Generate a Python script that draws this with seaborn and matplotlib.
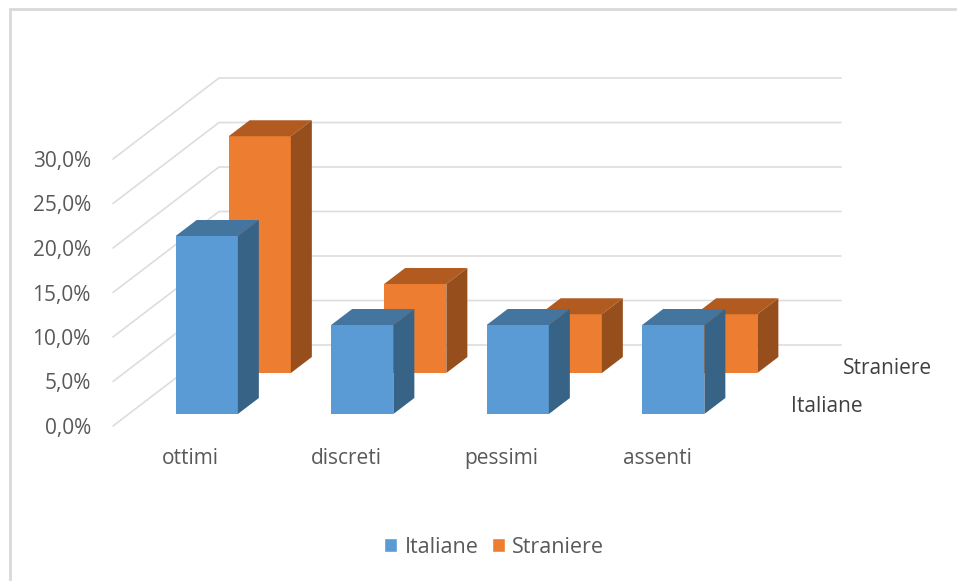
import pandas as pd
import matplotlib
matplotlib.use("Agg")
import matplotlib.pyplot as plt
from matplotlib.patches import Patch, Polygon, Rectangle
import seaborn as sns

categories = ["ottimi", "discreti", "pessimi", "assenti"]
italiane = [20.0, 10.0, 10.0, 10.0]
straniere = [26.6, 10.0, 6.6, 6.6]
yticks = [0, 5, 10, 15, 20, 25, 30]
ytick_labels = ["0,0%", "5,0%", "10,0%", "15,0%", "20,0%", "25,0%", "30,0%"]

W, H = 957, 581
PX_X = 622 / 4      # px per category
PX_Y = 8.9          # px per percent
BLUE, ORANGE = "#5B9BD5", "#ED7D31"
GREY = "#595959"

sns.set_theme(style="white")
plt.rcParams["font.family"] = ["Open Sans", "DejaVu Sans"]

fig = plt.figure(figsize=(W / 100, H / 100), dpi=100)

def plane(left, base):
    # axes for one depth plane of the fake 3d chart, given in reference pixels
    ax = fig.add_axes([left / W, 1 - base / H, 622 / W, 30 * PX_Y / H])
    ax.set_facecolor("none")
    ax.set_xlim(-0.5, 3.5)
    ax.set_ylim(0, 30)
    return ax

def faces(ax, top, side, dx=21, dy=16):
    # top and side of every bar, worked out from the bar itself
    ox, oy = dx / PX_X, dy / PX_Y
    for b in ax.patches:
        x0, x1, h = b.get_x(), b.get_x() + b.get_width(), b.get_height()
        ax.add_patch(Polygon([(x0, h), (x1, h), (x1 + ox, h + oy), (x0 + ox, h + oy)],
                             fc=top, ec="none", clip_on=False, zorder=3))
        ax.add_patch(Polygon([(x1, 0), (x1 + ox, oy), (x1 + ox, h + oy), (x1, h)],
                             fc=side, ec="none", clip_on=False, zorder=3))

# frame round the picture
fig.add_artist(Rectangle((9.5 / W, -0.1), 1.1, 1.1 - 9.5 / H + 0.0, transform=fig.transFigure,
                         fc="none", ec="#D9D9D9", lw=2))

# walls, drawn from the y ticks
ax_wall = plane(113, 426)
ax_wall.set_zorder(1)
wx, wy = 106 / PX_X, 81 / PX_Y
for v in yticks:
    ax_wall.plot([-0.5, -0.5 + wx, 3.5 + wx], [v, v + wy, v + wy],
                 color="#DDDDDD", lw=1.2, clip_on=False, solid_joinstyle="miter")
ax_wall.set_xticks(range(len(categories)), categories)
ax_wall.set_yticks(yticks, ytick_labels)
ax_wall.tick_params(axis="x", length=0, pad=15.5, labelsize=15, labelcolor=GREY)
ax_wall.tick_params(axis="y", length=0, pad=16, labelsize=15, labelcolor=GREY)
sns.despine(ax=ax_wall, left=True, bottom=True)

df = pd.DataFrame({"cat": categories, "Italiane": italiane, "Straniere": straniere})

ax_st = plane(182, 373)
ax_st.set_zorder(2)
sns.barplot(data=df, x="cat", y="Straniere", color=ORANGE, saturation=1, width=0.4,
            linewidth=0, ax=ax_st)
faces(ax_st, "#B15B20", "#964F1C")

ax_it = plane(129, 414)
ax_it.set_zorder(3)
sns.barplot(data=df, x="cat", y="Italiane", color=BLUE, saturation=1, width=0.4,
            linewidth=0, ax=ax_it)
faces(ax_it, "#44759F", "#376387")

for ax in (ax_st, ax_it):
    ax.set_xlim(-0.5, 3.5)
    ax.set_ylim(0, 30)
    ax.axis("off")

# series names along the depth axis
fig.text(791 / W, 1 - 407 / H, "Italiane", fontsize=15, color="#404040", va="center")
fig.text(843 / W, 1 - 368.5 / H, "Straniere", fontsize=15, color="#404040", va="center")

handles = [Patch(fc=BLUE, label="Italiane"), Patch(fc=ORANGE, label="Straniere")]
fig.legend(handles=handles, loc="center", bbox_to_anchor=(494 / W, 1 - 547.5 / H), ncol=2,
           frameon=False, fontsize=15.5, labelcolor=GREY, handlelength=0.62, handleheight=0.62,
           handletextpad=0.33, columnspacing=0.62, borderpad=0)

fig.savefig("out.png", dpi=100)
